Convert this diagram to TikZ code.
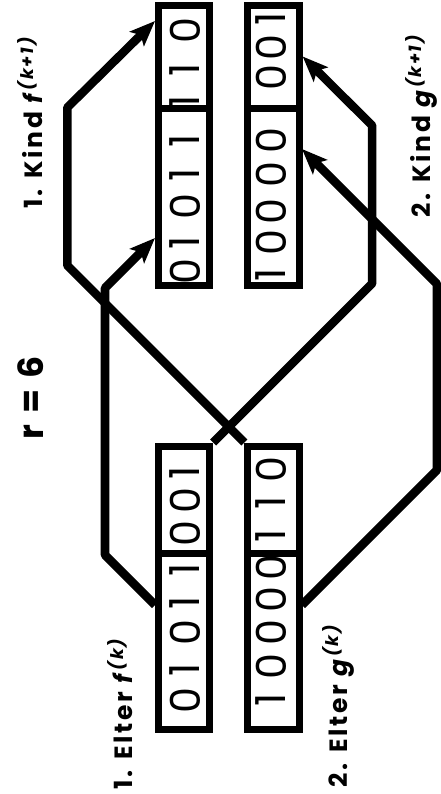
\documentclass[tikz,border=0pt]{standalone}
\usepackage{fontspec}
\setmainfont{Poppins}
\usetikzlibrary{arrows.meta}

\begin{document}
\begin{tikzpicture}[
    x=0.75pt, y=-0.75pt,
    seg/.style={draw, line width=5.25pt, minimum width=38.5pt, inner sep=0pt},
    bit/.style={rotate=90, inner sep=0pt, font=\fontsize{31}{31}\selectfont},
    lbl/.style={rotate=90, anchor=base, inner sep=0pt,
                font=\bfseries\fontsize{18.75}{20}\selectfont\addfontfeature{LetterSpace=11}},
    link/.style={line width=6.4pt, line join=bevel,
                 -{Stealth[length=19pt, width=15pt, inset=4pt]}},
]
\useasboundingbox (0,0) rectangle (441,794);

% Eltern (unten): langer und kurzer Teil
\node[seg, minimum height=132pt]   (fpl) at (184,641) {};
\node[seg, minimum height=80.25pt] (fps) at (184,499.5) {};
\node[seg, minimum height=132pt]   (gpl) at (273.5,641) {};
\node[seg, minimum height=80.25pt] (gps) at (273.5,499.5) {};

% Kinder (oben)
\node[seg, minimum height=132.75pt] (fcl) at (184,196.5) {};
\node[seg, minimum height=77.25pt]  (fcs) at (184,56.5) {};
\node[seg, minimum height=132.75pt] (gcl) at (273.5,196.5) {};
\node[seg, minimum height=77.25pt]  (gcs) at (273.5,56.5) {};

% Bits, von unten nach oben gelesen
\foreach \b/\y [count=\i] in {0/701,1/670,0/633,1/603,1/570,0/534,0/501,1/473}
    \node[bit] (fpbit\i) at (185,\y) {\b};
\foreach \b/\y [count=\i] in {1/700,0/667,0/633,0/600,0/568,1/536,1/503,0/470}
    \node[bit] (gpbit\i) at (271,\y) {\b};
\foreach \b/\y [count=\i] in {0/272,1/243,0/207,1/175,1/141,1/102,1/70,0/31}
    \node[bit] (fcbit\i) at (185,\y) {\b};
\foreach \b/\y [count=\i] in {1/275,0/243,0/212,0/175,0/141,0/78,0/48,1/19}
    \node[bit] (gcbit\i) at (271,\y) {\b};

% Beschriftung
\node[lbl] (elter1) at (132,713) {1. Elter \textit{f}\textsuperscript{\textit{(k)}}};
\node[lbl] (elter2) at (347,705) {2. Elter \textit{g}\textsuperscript{\textit{(k)}}};
\node[lbl] (kind1)  at (42,121.5)  {1. Kind \textit{f}\textsuperscript{\textit{(k+1)}}};
\node[lbl] (kind2)  at (430,125)   {2. Kind \textit{g}\textsuperscript{\textit{(k+1)}}};
\node[lbl, font=\bfseries\fontsize{26}{28}\selectfont\addfontfeature{LetterSpace=10}]
    (rval) at (43,398) {r = 6};

% Ein- und Austrittspunkte der Linien
\coordinate (fpl-out) at (155,605);
\coordinate (gpl-out) at (302,605);
\coordinate (fcl-in)  at (155,238);
\coordinate (fcs-in)  at (155,21);
\coordinate (gcl-in)  at (302,149);

% Crossover
\draw[link] (fpl-out) -- ++(-50,-50) -- ++(0,-267) -- (fcl-in);
\draw[link] (fps.north east) -- ++(159,-159) -- ++(0,-158) -- (gcs.east);
\draw[link] (gps.north west) -- ++(-177,-177) -- ++(0,-158) -- (fcs-in);
\draw[link] (gpl-out) -- ++(135,-135) -- ++(0,-186) -- (gcl-in);
\end{tikzpicture}
\end{document}
